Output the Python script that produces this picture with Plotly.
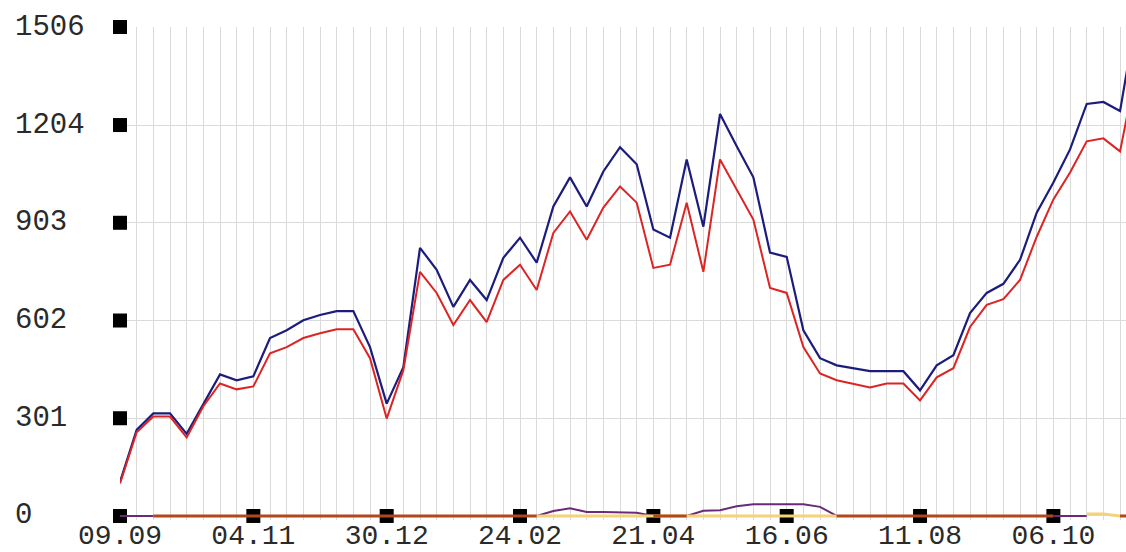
import pandas as pd
import plotly.graph_objects as go

# ---- data -------------------------------------------------------------
start_date = "2012-09-09"
weeks = pd.date_range(start_date, periods=62, freq="7D")

series_blue = [105, 265, 316, 316, 253, 345, 436, 418, 430, 548, 572, 603, 619, 631, 631, 520,
               346, 458, 826, 758, 644, 727, 665, 795, 857, 780, 953, 1043, 953, 1061, 1136, 1083,
               882, 857, 1098, 891, 1238, 1139, 1043, 811, 798, 572, 486, 464, 455, 446, 446, 446,
               387, 464, 495, 625, 687, 715, 789, 934, 1027, 1129, 1269, 1275, 1247, 1547]

series_red = [100, 258, 306, 306, 242, 338, 408, 390, 399, 501, 520, 548, 563, 575, 575, 486,
              300, 449, 752, 687, 588, 665, 597, 727, 774, 696, 872, 938, 851, 950, 1015, 965,
              764, 774, 965, 752, 1098, 1006, 913, 702, 687, 520, 439, 418, 408, 396, 408, 408,
              356, 427, 455, 582, 650, 668, 727, 860, 975, 1058, 1154, 1163, 1123, 1381]

N = None
series_purple = ([0, 0, 0] + [N] * 22 + [0, 15, 24, 12, 12, 12, 10, 0, 0, 0,
                  16, 18, 30, 36, 36, 36, 36, 28, 0] + [N] * 12 + [0, 0, 0] + [N] * 3)

series_yellow = [N] * 25 + [0] * 19 + [N] * 14 + [6, 6, 0, N]

series_brown = [N] * 2 + [0] * 24 + [N] * 6 + [0] * 3 + [N] * 8 + [0] * 14 + [N] * 3 + [0] * 2

y_ticks = [0, 301, 602, 903, 1204, 1506]
x_tick_weeks = [0, 8, 16, 24, 32, 40, 48, 56]
x_ticks = [weeks[i] for i in x_tick_weeks]

# ---- figure ----------------------------------------------------------
FONT = "Liberation Mono"
GRID = "#dadada"
TEXT = "#2a2a2a"
fig = go.Figure()

# square tick marks on the axes
fig.add_trace(go.Scatter(x=[weeks[0]] * len(y_ticks), y=y_ticks, mode="markers",
                         marker=dict(symbol="square", size=14, color="black"),
                         cliponaxis=False, hoverinfo="skip", showlegend=False))
fig.add_trace(go.Scatter(x=x_ticks, y=[0] * len(x_ticks), mode="markers",
                         marker=dict(symbol="square", size=14, color="black"),
                         cliponaxis=False, hoverinfo="skip", showlegend=False))

fig.add_trace(go.Scatter(x=weeks, y=series_purple, mode="lines",
                         line=dict(color="#6a2a7a", width=2), showlegend=False))
fig.add_trace(go.Scatter(x=weeks, y=series_yellow, mode="lines",
                         line=dict(color="#f2d27a", width=3), showlegend=False))
fig.add_trace(go.Scatter(x=weeks, y=series_brown, mode="lines",
                         line=dict(color="#b0481c", width=3), showlegend=False))
fig.add_trace(go.Scatter(x=weeks, y=series_blue, mode="lines",
                         line=dict(color="#1c1c7c", width=2.2), showlegend=False))
fig.add_trace(go.Scatter(x=weeks, y=series_red, mode="lines",
                         line=dict(color="#dd2424", width=2), showlegend=False))

for v in y_ticks:
    fig.add_annotation(x=-0.106, xref="paper", y=v, yref="y", text=str(v),
                       showarrow=False, xanchor="left", yanchor="middle",
                       font=dict(family=FONT, size=29, color=TEXT))

fig.update_layout(
    width=1126, height=552, template="none",
    margin=dict(l=120, r=0, t=27, b=32),
    paper_bgcolor="white", plot_bgcolor="white",
    xaxis=dict(type="date", range=[start_date, "2013-11-05 12:00"],
               tickvals=x_ticks, tickformat="%d.%m", ticks="",
               showgrid=True, gridcolor=GRID, gridwidth=1,
               minor=dict(dtick=7 * 86400000, tick0=start_date, showgrid=True,
                          gridcolor=GRID, gridwidth=1),
               zeroline=False, showline=False, automargin=False,
               ticklabelstandoff=-5,
               tickfont=dict(family=FONT, size=28, color=TEXT)),
    yaxis=dict(range=[-12.4, 1506], tickvals=y_ticks, showticklabels=False, ticks="",
               showgrid=True, gridcolor=GRID, gridwidth=1,
               zeroline=False, showline=False, automargin=False),
)

fig.write_html("out.html", config={"displayModeBar": False},
               post_script="document.body.style.margin='0';")
